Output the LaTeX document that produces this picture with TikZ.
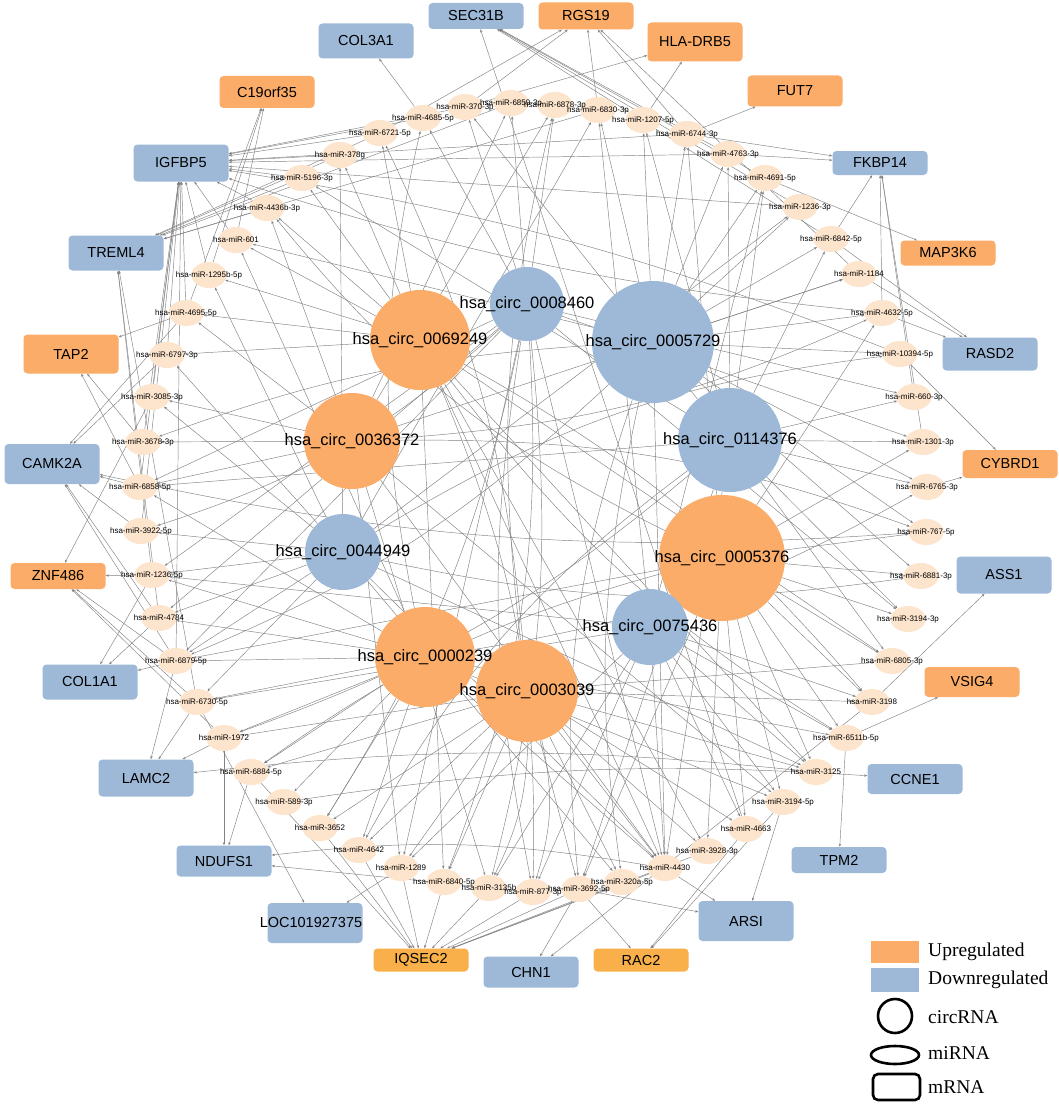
\documentclass[tikz,border=0pt]{standalone}
\usepackage{fontspec}
\setmainfont{Liberation Sans}
\newfontfamily\legendfont{Liberation Serif}
\usetikzlibrary{shapes.geometric,arrows.meta}
\definecolor{upc}{RGB}{250,172,104}
\definecolor{upcb}{RGB}{249,176,74}
\definecolor{dnc}{RGB}{157,185,215}
\definecolor{mifill}{RGB}{253,228,204}
\definecolor{edgec}{RGB}{130,130,130}
\pgfdeclarelayer{bg}\pgfsetlayers{bg,main}
\tikzset{
  mi/.style={ellipse, fill=mifill, minimum width=35pt, minimum height=26pt, inner sep=0pt},
  milab/.style={font=\fontsize{8}{9}\selectfont, inner sep=0pt},
  mr/.style={rounded corners=4pt, minimum width=95pt, inner sep=0pt, font=\fontsize{14.5}{16}\selectfont},
  upbox/.style={mr, fill=upc},
  upboxb/.style={mr, fill=upcb},
  dnbox/.style={mr, fill=dnc},
  cup/.style={circle, inner sep=0pt, fill=upc},
  cdn/.style={circle, inner sep=0pt, fill=dnc},
  clab/.style={font=\fontsize{16.5}{18}\selectfont, inner sep=0pt},
  edge/.style={draw=edgec, line width=0.45pt, -{Stealth[length=3.2pt,width=2.4pt]}},
  legtext/.style={font=\legendfont\fontsize{19.5}{21}\selectfont, anchor=west, inner sep=0pt},
}
\begin{document}
\begin{tikzpicture}[x=1pt,y=-1pt]
\useasboundingbox (0,0) rectangle (1059,1105);

% ---------- circRNAs ----------
\node[cdn, minimum size=74pt]  (c8460) at (527,304) {};
\node[cdn, minimum size=122pt] (c5729) at (653,342) {};
\node[cup, minimum size=100pt] (c9249) at (420,340) {};
\node[cup, minimum size=96pt]  (c6372) at (352,441) {};
\node[cdn, minimum size=104pt] (c4376) at (730,440) {};
\node[cdn, minimum size=76pt]  (c4949) at (343,552) {};
\node[cup, minimum size=126pt] (c5376) at (722,558) {};
\node[cup, minimum size=100pt] (c0239) at (425,657) {};
\node[cup, minimum size=102pt] (c3039) at (527,691) {};
\node[cdn, minimum size=76pt]  (c5436) at (650,627) {};

% ---------- miRNAs ----------
\foreach \n/\x/\y in {m370/465/107, m6859/511/103, m6878/555/105, m6830/598/110, m1207/643/120,
  m6744/687/134, m4763/728/154, m4691/765/178, m1236a/800/207, m6842/831/239, m1184/859/274,
  m4632/882/313, m10394/900/354, m660/914/397, m1301/923/442, m6765/927/487, m767/926/532,
  m6881/921/576, m3194a/908/619, m6805/892/661, m3198/872/702, m6511/846/738, m3125/816/772,
  m3194b/783/802, m4663/746/829, m3928/707/851, m4430/665/868, m320/622/882, m3692/579/889,
  m877/533/892, m3135/489/888, m6840/444/882, m1289/401/868, m4642/359/850, m3652/320/828,
  m589/284/802, m6884/251/772, m1972/224/738, m6730/197/702, m6879/176/661, m4784/159/618,
  m1236b/152/575, m3922/141/531, m6858/140/487, m3678/143/442, m3085/152/397, m6797/167/355,
  m4695/186/313, m1295/209/275, m601/236/240, m4436/267/208, m5196/302/178, m378/340/155,
  m6721/380/133, m4685/423/118}
  {\node[mi] (\n) at (\x,\y) {};}

% ---------- mRNAs ----------
\node[dnbox, minimum height=26pt] (SEC) at (476,16) {SEC31B};
\node[upbox, minimum height=27pt] (RGS) at (586,16) {RGS19};
\node[upbox, minimum height=39pt] (HLA) at (695,42) {HLA-DRB5};
\node[dnbox, minimum height=35pt] (COLthree) at (366,41) {COL3A1};
\node[upbox, minimum height=32pt] (CNINE) at (267,92) {C19orf35};
\node[upbox, minimum height=31pt] (FUT) at (795,91) {FUT7};
\node[dnbox, minimum height=37pt] (IGF) at (181,163) {IGFBP5};
\node[dnbox, minimum height=24pt] (FKB) at (880,163) {FKBP14};
\node[dnbox, minimum height=35pt] (TRE) at (116,253) {TREML4};
\node[upbox, minimum height=25pt] (MAP) at (948,253) {MAP3K6};
\node[upbox, minimum height=39pt] (TAP) at (71,354) {TAP2};
\node[dnbox, minimum height=33pt] (RAS) at (990,354) {RASD2};
\node[dnbox, minimum height=40pt] (CAM) at (52,464) {CAMK2A};
\node[upbox, minimum height=28pt] (CYB) at (1010,464) {CYBRD1};
\node[upbox, minimum height=26pt] (ZNF) at (58,576) {ZNF486};
\node[dnbox, minimum height=37pt] (ASS) at (1004,575) {ASS1};
\node[dnbox, minimum height=35pt] (COLone) at (90,682) {COL1A1};
\node[upbox, minimum height=30pt] (VSI) at (972,682) {VSIG4};
\node[dnbox, minimum height=37pt] (LAM) at (146,778) {LAMC2};
\node[dnbox, minimum height=30pt] (CCN) at (915,779) {CCNE1};
\node[dnbox, minimum height=31pt] (NDU) at (224,861) {NDUFS1};
\node[dnbox, minimum height=26pt] (TPM) at (839,860) {TPM2};
\node[dnbox, minimum height=40pt] (LOC) at (315,923) {};
\node[font=\fontsize{14.5}{16}\selectfont, inner sep=0pt] (LOCt) at (311,922) {LOC101927375};
\node[dnbox, minimum height=40pt] (ARS) at (746,921) {ARSI};
\node[upboxb, minimum height=23pt] (IQS) at (421,960) {IQSEC2};
\node[dnbox, minimum height=31pt] (CHN) at (531,972) {CHN1};
\node[upboxb, minimum height=23pt] (RAC) at (641,960) {RAC2};

% ---------- edges ----------
\begin{pgfonlayer}{bg}
\fill[white] (0,0) rectangle (1059,1105);
% circRNA -> miRNA (straight)
\foreach \s/\t in {
 c8460/m4685, c8460/m370, c8460/m6859, c8460/m6878, c8460/m4430,
 c8460/m1289, c8460/m6879, c8460/m4784, c8460/m1236b,
 c8460/m6858, c8460/m660, c8460/m1301, c8460/m3194a,
 c5729/m6830, c5729/m1207, c5729/m6744, c5729/m4763, c5729/m4691, c5729/m1236a, c5729/m6842,
 c5729/m1184, c5729/m4632, c5729/m10394, c5729/m6765, c5729/m767, c5729/m6881, c5729/m4430,
 c5729/m601,
 c9249/m6721, c9249/m378, c9249/m5196, c9249/m4436, c9249/m601, c9249/m1295, c9249/m4695,
 c9249/m6797, c9249/m4430, c9249/m3125, c9249/m6805, c9249/m3928, c9249/m6840,
 c6372/m3085, c6372/m3678, c6372/m6858, c6372/m4695, c6372/m4436, c6372/m6859, c6372/m6878,
 c6372/m1184, c6372/m4430, c6372/m3194b, c6372/m3135, c6372/m1289,
 c4376/m1207, c4376/m4763, c4376/m4691, c4376/m6842, c4376/m660, c4376/m1301, c4376/m6765,
 c4376/m3194a, c4376/m6805, c4376/m4430, c4376/m3692, c4376/m6858,
 c4376/m5196, c4376/m370,
 c4949/m3922, c4949/m1236b, c4949/m4784, c4949/m6879, c4949/m6730, c4949/m3085, c4949/m6797,
 c4949/m1295, c4949/m378, c4949/m6830, c4949/m1236a, c4949/m3125,
 c4949/m4430, c4949/m320,
 c5376/m767, c5376/m6881, c5376/m3194a, c5376/m6805, c5376/m3198, c5376/m6511, c5376/m3125,
 c5376/m3194b, c5376/m4663, c5376/m3928, c5376/m1301, c5376/m4632, c5376/m3692, c5376/m6879,
 c5376/m1289, c5376/m6744,
 c0239/m6884, c0239/m589, c0239/m3652, c0239/m4642, c0239/m1972, c0239/m6730, c0239/m6879,
 c0239/m4784, c0239/m1236b, c0239/m6858, c0239/m601, c0239/m4430, c0239/m6511,
 c0239/m3194b,
 c3039/m4430, c3039/m320, c3039/m3692, c3039/m6840, c3039/m1289,
 c3039/m4642, c3039/m3652, c3039/m4663, c3039/m3928, c3039/m3125, c3039/m3198, c3039/m6805,
 c3039/m1972, c3039/m6884,
 c5436/m4430, c5436/m3194b, c5436/m4663, c5436/m3125, c5436/m6511, c5436/m3198, c5436/m877,
 c5436/m3135, c5436/m6730, c5436/m1236b, c5436/m4691, c5436/m6830}
 {\draw[edge] (\s) -- (\t);}
% curved edges
\foreach \s/\t/\b in {
 c8460/m3135/10, c8460/m877/-10, c8460/m6840/12, c8460/m3652/10, c8460/m3922/12,
 c5729/m3692/-12, c5729/m320/-10, c5729/m6879/10, c5729/m3678/-8,
 c9249/m3198/10, c9249/m6511/-10, c9249/m877/12,
 c6372/m4632/-10, c6372/m767/10,
 c4376/m1972/10, c4376/m4642/-12,
 c4949/m10394/12, c4949/m6881/-10,
 c5376/m6884/-10, c5376/m4436/12,
 c3039/m877/15, c3039/m3135/12, c3039/m6721/-10, c3039/m6878/10,
 c0239/m4685/12, c0239/m6765/-10,
 m767/CAM/8, m4430/NDU/-8, m589/CCN/6, m3125/LAM/-6, m4632/IGF/6, m10394/IGF/-6}
 {\draw[edge] (\s) to[bend left=\b] (\t);}
% miRNA -> mRNA
\foreach \s/\t in {
 m6721/IGF, m378/IGF, m5196/IGF, m4436/IGF, m601/IGF, m1295/IGF, m4695/IGF, m6797/IGF,
 m3085/IGF, m3678/IGF, m6858/IGF, m4685/IGF, m370/IGF, m6744/IGF, m4763/IGF, m1236a/IGF,
 m3922/IGF, m6879/IGF,
 m6721/TRE, m378/TRE, m5196/TRE, m4436/TRE, m6859/TRE, m4784/TRE, m1236b/TRE, m6730/TRE,
 m6830/TRE,
 m4695/CNINE, m1295/CNINE, m601/CNINE, m4685/COLthree,
 m4763/SEC, m4691/SEC, m1236a/SEC, m6842/SEC, m4663/SEC,
 m370/RGS, m6721/RGS, m6830/RGS, m6744/RGS, m1184/RGS,
 m370/HLA, m1207/HLA, m6744/FUT,
 m6744/FKB, m4763/FKB, m6842/FKB, m660/FKB, m1301/FKB, m4632/FKB,
 m4691/MAP, m4632/RAS, m1184/RAS, m6842/RAS, m10394/CYB, m6765/CYB,
 m3198/ASS, m6511/VSI, m6511/TPM,
 m4430/ARS, m3692/ARS, m3194b/ARS, m3692/RAC, m4663/RAC, m3194b/RAC, m3692/CHN, m3198/CHN,
 m1289/IQS, m4642/IQS, m6840/IQS, m3135/IQS, m877/IQS, m3692/IQS, m320/IQS, m3652/IQS,
 m4430/IQS, m3928/IQS, m6884/IQS,
 m1289/LOC, m6730/LOC,
 m6884/NDU, m1972/NDU, m877/NDU,
 m1972/LAM, m6879/LAM, m6730/LAM,
 m4784/COLone, m1236b/COLone, m6879/COLone,
 m1236b/ZNF, m6879/ZNF, m6730/ZNF, m1972/ZNF, m3085/ZNF,
 m6797/CAM, m4695/CAM, m4784/CAM, m6879/CAM, m6858/CAM, m3922/CAM,
 m4695/TAP, m3678/TAP, m6858/TAP}
 {\draw[edge] (\s) -- (\t);}
\end{pgfonlayer}

% ---------- labels ----------
\node[clab] (c8460t) at (c8460) {hsa\_circ\_0008460};
\node[clab] (c5729t) at (c5729) {hsa\_circ\_0005729};
\node[clab] (c9249t) at (c9249) {hsa\_circ\_0069249};
\node[clab] (c6372t) at (c6372) {hsa\_circ\_0036372};
\node[clab] (c4376t) at (c4376) {hsa\_circ\_0114376};
\node[clab] (c4949t) at (c4949) {hsa\_circ\_0044949};
\node[clab] (c5376t) at (c5376) {hsa\_circ\_0005376};
\node[clab] (c0239t) at (c0239) {hsa\_circ\_0000239};
\node[clab] (c3039t) at (c3039) {hsa\_circ\_0003039};
\node[clab] (c5436t) at (c5436) {hsa\_circ\_0075436};

\foreach \n/\l in {m370/370-3p, m6859/6859-3p, m6878/6878-3p, m6830/6830-3p, m1207/1207-5p,
  m6744/6744-3p, m4763/4763-3p, m4691/4691-5p, m1236a/1236-3p, m6842/6842-5p, m1184/1184,
  m4632/4632-5p, m10394/10394-5p, m660/660-3p, m1301/1301-3p, m6765/6765-3p, m767/767-5p,
  m6881/6881-3p, m3194a/3194-3p, m6805/6805-3p, m3198/3198, m6511/6511b-5p, m3125/3125,
  m3194b/3194-5p, m4663/4663, m3928/3928-3p, m4430/4430, m320/320a-5p, m3692/3692-5p,
  m877/877-3p, m3135/3135b, m6840/6840-5p, m1289/1289, m4642/4642, m3652/3652,
  m589/589-3p, m6884/6884-5p, m1972/1972, m6730/6730-5p, m6879/6879-5p, m4784/4784,
  m1236b/1236-5p, m3922/3922-5p, m6858/6858-5p, m3678/3678-3p, m3085/3085-3p, m6797/6797-3p,
  m4695/4695-5p, m1295/1295b-5p, m601/601, m4436/4436b-3p, m5196/5196-3p, m378/378g,
  m6721/6721-5p, m4685/4685-5p}
  {\node[milab] (\n t) at (\n) {hsa-miR-\l};}

% ---------- legend ----------
\fill[upc] (871,941) rectangle (919,963);
\fill[dnc] (871,968) rectangle (919,992);
\node[legtext] (lg1) at (928,952) {Upregulated};
\node[legtext] (lg2) at (928,980) {Downregulated};
\draw[line width=2.6pt] (895,1016) circle (17);
\node[legtext] (lg3) at (928,1017) {circRNA};
\draw[line width=2.6pt] (895,1055) ellipse (24 and 9);
\node[legtext] (lg4) at (928,1053) {miRNA};
\draw[line width=2.6pt, rounded corners=5pt] (873,1074) rectangle (920,1100);
\node[legtext] (lg5) at (928,1087) {mRNA};
\end{tikzpicture}
\end{document}
